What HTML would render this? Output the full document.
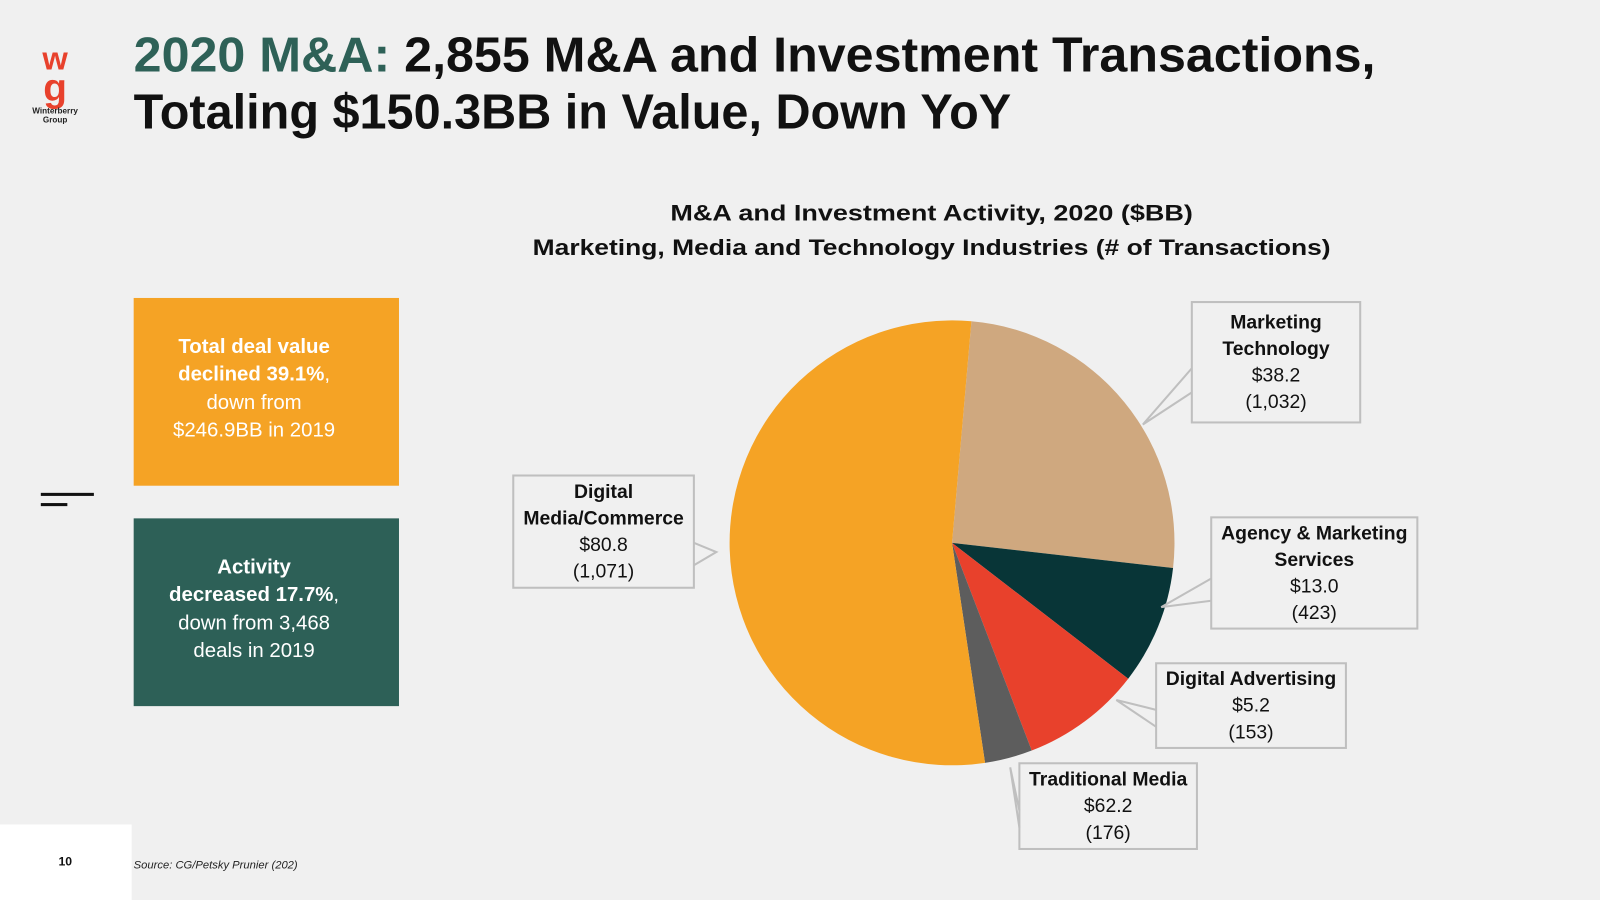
<!DOCTYPE html>
<html><head><meta charset="utf-8"><style>
html,body{margin:0;padding:0;background:#f0f0f0;}
svg{display:block;font-family:"Liberation Sans",sans-serif;}
</style></head><body>
<svg width="1600" height="900" viewBox="0 0 1568 882" preserveAspectRatio="none">
<rect x="0" y="0" width="1568" height="882" fill="#f0f0f0"/>
<g>
<text x="54" y="68" text-anchor="middle" font-size="32" font-weight="bold" fill="#e8412c">w</text>
<text x="54" y="99" text-anchor="middle" font-size="38" font-weight="bold" fill="#e8412c">g</text>
<text x="54" y="111" text-anchor="middle" font-size="8" font-weight="bold" fill="#222">Winterberry</text>
<text x="54" y="120" text-anchor="middle" font-size="8" font-weight="bold" fill="#222">Group</text>
</g>
<g font-weight="bold" font-size="48">
<text x="131" y="70" textLength="1217" lengthAdjust="spacingAndGlyphs"><tspan fill="#2e6157">2020 M&amp;A:</tspan><tspan fill="#111"> 2,855 M&amp;A and Investment Transactions,</tspan></text>
<text x="131" y="126" fill="#111" textLength="860" lengthAdjust="spacingAndGlyphs">Totaling $150.3BB in Value, Down YoY</text>
</g>
<g font-weight="bold" font-size="22" fill="#111" text-anchor="middle">
<text x="913" y="216" textLength="512" lengthAdjust="spacingAndGlyphs">M&amp;A and Investment Activity, 2020 ($BB)</text>
<text x="913" y="250" textLength="782" lengthAdjust="spacingAndGlyphs">Marketing, Media and Technology Industries (# of Transactions)</text>
</g>
<g>
<rect x="131" y="292" width="260" height="184" fill="#f5a325"/>
<g fill="#fff" font-size="20" text-anchor="middle">
<text x="249" y="346" font-weight="bold">Total deal value</text>
<text x="249" y="373"><tspan font-weight="bold">declined 39.1%</tspan>,</text>
<text x="249" y="401">down from</text>
<text x="249" y="428">$246.9BB in 2019</text>
</g></g>
<g>
<rect x="131" y="508" width="260" height="184" fill="#2d6057"/>
<g fill="#fff" font-size="20" text-anchor="middle">
<text x="249" y="562" font-weight="bold">Activity</text>
<text x="249" y="589"><tspan font-weight="bold">decreased 17.7%</tspan>,</text>
<text x="249" y="617">down from 3,468</text>
<text x="249" y="644">deals in 2019</text>
</g></g>
<g>
<rect x="40" y="483" width="52" height="3" fill="#111"/>
<rect x="40" y="493" width="26" height="3" fill="#111"/>
</g>
<rect x="0" y="808" width="129" height="92" fill="#fff"/>
<text x="64" y="848" text-anchor="middle" font-size="12" font-weight="bold" fill="#111">10</text>
<text x="131" y="851" font-size="11" font-style="italic" fill="#222">Source: CG/Petsky Prunier (202)</text>
<g id="pie"></g>
<g id="labels"></g>
</svg>
<script>
const categories = ["Marketing Technology","Agency & Marketing Services","Traditional Media","Digital Advertising","Digital Media/Commerce"];
const values = [38.2, 13.0, 13.1, 5.2, 80.8];
const colors = ["#cfa87f","#083537","#e8412c","#5d5d5d","#f5a325"];
const labelLines = [["Marketing","Technology","$38.2","(1,032)"],["Agency & Marketing","Services","$13.0","(423)"],["Traditional Media","$62.2","(176)"],["Digital Advertising","$5.2","(153)"],["Digital","Media/Commerce","$80.8","(1,071)"]];
const boldCounts = [2,2,1,1,2];
const NS="http://www.w3.org/2000/svg";
const cx=933, cy=532, r=218, startDeg=5;
const total=values.reduce((a,b)=>a+b,0);
function pt(deg,rad){const a=deg*Math.PI/180;return [cx+rad*Math.sin(a), cy-rad*Math.cos(a)];}
const pie=document.getElementById('pie');
let a0=startDeg;
values.forEach((v,i)=>{
  const sweep=v/total*360, a1=a0+sweep;
  const p0=pt(a0,r), p1=pt(a1,r);
  const path=document.createElementNS(NS,'path');
  path.setAttribute('d',`M${cx},${cy} L${p0[0]},${p0[1]} A${r},${r} 0 ${sweep>180?1:0} 1 ${p1[0]},${p1[1]} Z`);
  path.setAttribute('fill',colors[i]);
  
  
  pie.appendChild(path);
  a0=a1;
});
const boxes=[[1168,296,165,118,1120,416],[1187,507,202,109,1138,595],[999,748,174,84,990,752],[1133,650,186,83,1094,686],[503,466,177,110,702,541]];
const lab=document.getElementById('labels');
boxes.forEach((b,i)=>{
  const [x,y,w,h,tx,ty]=b;
  const g=document.createElementNS(NS,'g');
  
  
  const rect=document.createElementNS(NS,'rect');
  rect.setAttribute('x',x);rect.setAttribute('y',y);rect.setAttribute('width',w);rect.setAttribute('height',h);
  rect.setAttribute('fill','#f0f0f0');rect.setAttribute('stroke','#bfbfbf');rect.setAttribute('stroke-width','2');
  g.appendChild(rect);
  const ln=document.createElementNS(NS,'polyline');
  let pts;
  if(tx<x){pts=`${x},${y+h*0.55} ${tx},${ty} ${x},${y+h*0.75}`;}
  else if(tx>x+w){pts=`${x+w},${y+h*0.6} ${tx},${ty} ${x+w},${y+h*0.8}`;}
  else {pts=`${x},${y+h*0.1} ${tx},${ty} ${x},${y+h*0.35}`;}
  ln.setAttribute('points',pts);ln.setAttribute('fill','none');ln.setAttribute('stroke','#bfbfbf');ln.setAttribute('stroke-width','2');
  g.appendChild(ln);
  const lines=labelLines[i];
  const lh=26, top=y+h/2-(lines.length*lh)/2+19;
  lines.forEach((s,j)=>{
    const t=document.createElementNS(NS,'text');
    t.setAttribute('x',x+w/2);t.setAttribute('y',top+j*lh);
    t.setAttribute('text-anchor','middle');t.setAttribute('font-size','19');t.setAttribute('fill','#111');
    if(j<boldCounts[i])t.setAttribute('font-weight','bold');
    t.textContent=s;
    g.appendChild(t);
  });
  lab.appendChild(g);
});
</script>
</body></html>
